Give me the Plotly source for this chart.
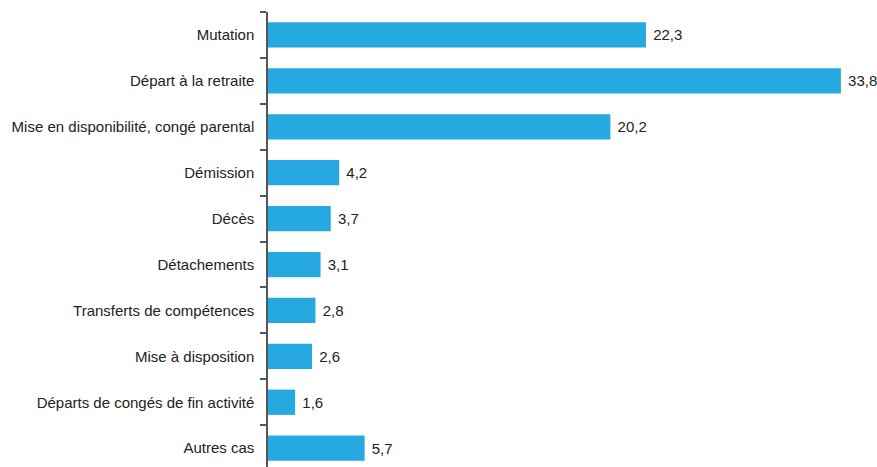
import plotly.graph_objects as go

categories = [
    "Mutation",
    "Départ à la retraite",
    "Mise en disponibilité, congé parental",
    "Démission",
    "Décès",
    "Détachements",
    "Transferts de compétences",
    "Mise à disposition",
    "Départs de congés de fin activité",
    "Autres cas",
]
values = [22.3, 33.8, 20.2, 4.2, 3.7, 3.1, 2.8, 2.6, 1.6, 5.7]

bar_color = "#25a9e0"
axis_color = "#555555"
font_family = "Liberation Sans, Arial, sans-serif"

fig = go.Figure(
    go.Bar(
        x=values,
        y=categories,
        orientation="h",
        marker=dict(color=bar_color, line=dict(width=0)),
        texttemplate="\u00a0%{x:.1f}",
        textposition="outside",
        textfont=dict(family=font_family, size=15, color="#222222"),
        cliponaxis=False,
        width=0.55,
    )
)

fig.update_layout(
    width=877,
    height=467,
    margin=dict(l=268, r=0, t=12, b=0),
    paper_bgcolor="white",
    plot_bgcolor="white",
    separators=", ",
    showlegend=False,
    font=dict(family=font_family, size=15, color="#222222"),
    xaxis=dict(
        range=[0, 35.93],
        showgrid=False,
        zeroline=False,
        showticklabels=False,
        showline=False,
        ticks="",
    ),
    yaxis=dict(
        type="category",
        categoryorder="array",
        categoryarray=categories,
        range=[9.41, -0.5],
        showgrid=False,
        zeroline=False,
        showline=True,
        linecolor=axis_color,
        linewidth=1.5,
        ticks="outside",
        tickson="boundaries",
        ticklen=6,
        tickwidth=1.5,
        tickcolor=axis_color,
        ticklabelstandoff=9,
        tickfont=dict(family=font_family, size=15, color="#222222"),
    ),
)

fig.write_html("out.html")
